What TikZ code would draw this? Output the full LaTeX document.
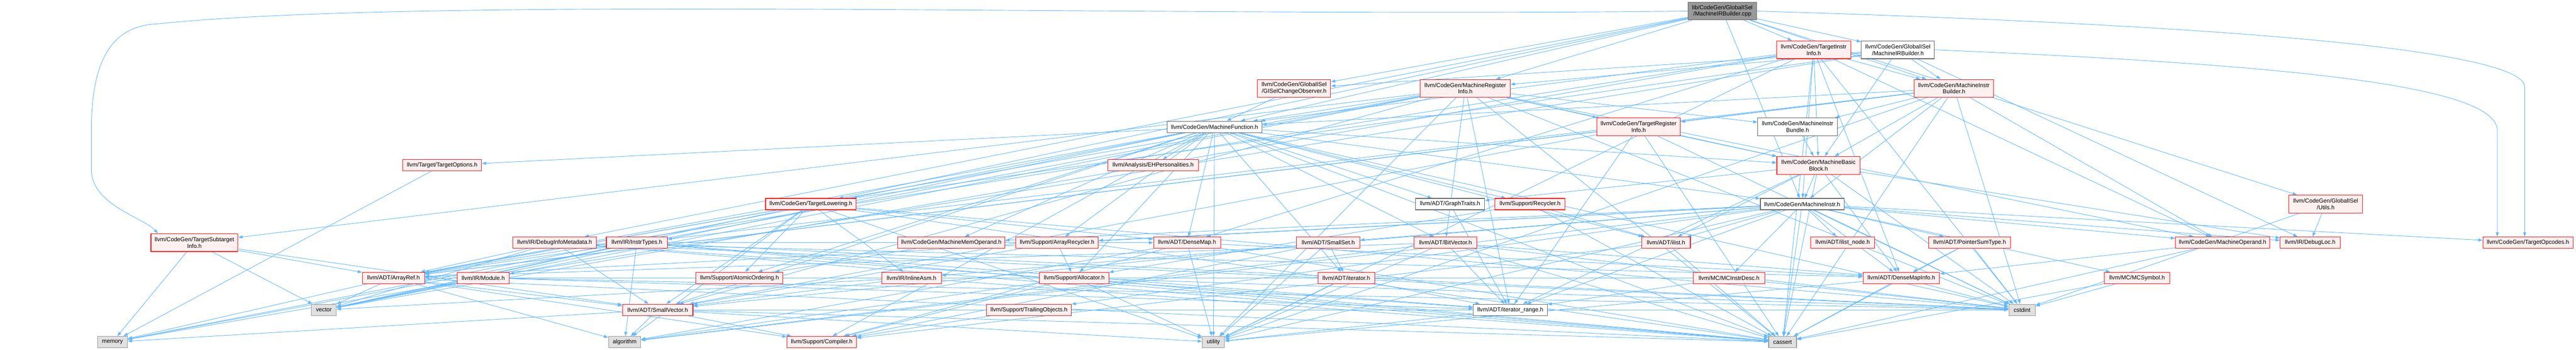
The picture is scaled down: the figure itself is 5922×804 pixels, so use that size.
\documentclass[tikz,border=0pt]{standalone}
\usepackage{fontspec}
\setmainfont{Liberation Sans}
\usetikzlibrary{arrows.meta}
\definecolor{edgec}{HTML}{63B8FF}
\definecolor{redb}{HTML}{FF1010}
\definecolor{redf}{HTML}{FFF0F0}
\definecolor{grayb}{HTML}{999999}
\definecolor{grayf}{HTML}{E0E0E0}
\definecolor{darkb}{HTML}{666666}
\pgfdeclarelayer{bg}
\pgfsetlayers{bg,main}
\tikzset{
 nbox/.style={rectangle, draw, line width=1.3pt, inner sep=0pt, minimum height=26pt, font=\fontsize{13.3}{15}\selectfont, align=center},
 tall/.style={minimum height=41pt},
 redbox/.style={nbox, draw=redb, fill=redf},
 whitebox/.style={nbox, draw=darkb, fill=white},
 sysbox/.style={nbox, draw=grayb, fill=grayf},
 rootbox/.style={nbox, draw=darkb, fill=grayb},
 dep/.style={draw=edgec, line width=1.1pt, -{Triangle[length=10pt,width=7pt]}},
}
\begin{document}
\begin{tikzpicture}[x=1pt,y=-1pt]
\useasboundingbox (0,0) rectangle (5922,804);
% row 0-4
\node[rootbox,tall,minimum width=157pt] (root) at (3959.5,25.5) {lib/CodeGen/GlobalISel\\/MachineIRBuilder.cpp};
\node[redbox,tall,minimum width=171pt] (TII) at (4169.5,114.5) {llvm/CodeGen/TargetInstr\\Info.h};
\node[whitebox,tall,minimum width=168pt] (MIRB) at (4363,114.5) {llvm/CodeGen/GlobalISel\\/MachineIRBuilder.h};
\node[redbox,tall,minimum width=168pt] (GCO) at (2975,203) {llvm/CodeGen/GlobalISel\\/GISelChangeObserver.h};
\node[redbox,tall,minimum width=207pt] (MRI) at (3368.5,203) {llvm/CodeGen/MachineRegister\\Info.h};
\node[redbox,tall,minimum width=182pt] (MIB) at (4492,203) {llvm/CodeGen/MachineInstr\\Builder.h};
\node[whitebox,minimum width=218pt] (MF) at (2792,291.5) {llvm/CodeGen/MachineFunction.h};
\node[redbox,tall,minimum width=192pt] (TRI) at (3767,291.5) {llvm/CodeGen/TargetRegister\\Info.h};
\node[whitebox,tall,minimum width=183pt] (MIBun) at (4132.5,291.5) {llvm/CodeGen/MachineInstr\\Bundle.h};
\node[redbox,minimum width=181pt] (TO) at (1016.5,380) {llvm/Target/TargetOptions.h};
\node[redbox,minimum width=208pt] (EHP) at (2651,380) {llvm/Analysis/EHPersonalities.h};
\node[redbox,tall,minimum width=191pt] (MBB) at (4180.5,380) {llvm/CodeGen/MachineBasic\\Block.h};
% row 5
\node[redbox,minimum width=208pt] (TL) at (1864,469) {llvm/CodeGen/TargetLowering.h};
\node[whitebox,minimum width=159pt] (GT) at (3333.5,469) {llvm/ADT/GraphTraits.h};
\node[redbox,minimum width=161pt] (Rec) at (3517.5,469) {llvm/Support/Recycler.h};
\node[whitebox,minimum width=192pt] (MI) at (4143,469) {llvm/CodeGen/MachineInstr.h};
\node[redbox,tall,minimum width=169pt] (Utils) at (5346.5,469) {llvm/CodeGen/GlobalISel\\/Utils.h};
% row 6
\node[redbox,tall,minimum width=200pt] (TSI) at (447,557.5) {llvm/CodeGen/TargetSubtarget\\Info.h};
\node[redbox,minimum width=192pt] (DIM) at (1275,557.5) {llvm/IR/DebugInfoMetadata.h};
\node[redbox,minimum width=140pt] (IT) at (1464,557.5) {llvm/IR/InstrTypes.h};
\node[redbox,minimum width=246pt] (MMO) at (2187,557.5) {llvm/CodeGen/MachineMemOperand.h};
\node[redbox,minimum width=190pt] (AR) at (2430,557.5) {llvm/Support/ArrayRecycler.h};
\node[redbox,minimum width=154pt] (DM) at (2729,557.5) {llvm/ADT/DenseMap.h};
\node[redbox,minimum width=145pt] (SS) at (3053.5,557.5) {llvm/ADT/SmallSet.h};
\node[redbox,minimum width=144pt] (BV) at (3323,557.5) {llvm/ADT/BitVector.h};
\node[redbox,minimum width=112pt] (ilist) at (3830,557.5) {llvm/ADT/ilist.h};
\node[redbox,minimum width=146pt] (ilnode) at (4236,557.5) {llvm/ADT/ilist\_node.h};
\node[redbox,minimum width=188pt] (PST) at (4528,557.5) {llvm/ADT/PointerSumType.h};
\node[redbox,minimum width=217pt] (MO) at (5109.5,557.5) {llvm/CodeGen/MachineOperand.h};
\node[redbox,minimum width=138pt] (DL) at (5311,557.5) {llvm/IR/DebugLoc.h};
\node[redbox,minimum width=207pt] (TOp) at (5811.5,557.5) {llvm/CodeGen/TargetOpcodes.h};
% row 7
\node[redbox,minimum width=143pt] (ArrayRef) at (904.5,638.5) {llvm/ADT/ArrayRef.h};
\node[redbox,minimum width=120pt] (Mod) at (1111,638.5) {llvm/IR/Module.h};
\node[redbox,minimum width=200pt] (AO) at (1700,638.5) {llvm/Support/AtomicOrdering.h};
\node[redbox,minimum width=137pt] (IA) at (2095.5,638.5) {llvm/IR/InlineAsm.h};
\node[redbox,minimum width=159pt] (Alloc) at (2469.5,638.5) {llvm/Support/Allocator.h};
\node[redbox,minimum width=130pt] (iter) at (3095,638.5) {llvm/ADT/iterator.h};
\node[redbox,minimum width=164pt] (MCID) at (3975,638.5) {llvm/MC/MCInstrDesc.h};
\node[redbox,minimum width=176pt] (DMI) at (4371,638.5) {llvm/ADT/DenseMapInfo.h};
\node[redbox,minimum width=150pt] (MCS) at (4913,638.5) {llvm/MC/MCSymbol.h};
% row 8
\node[sysbox,minimum width=57pt] (vector) at (744.5,712) {vector};
\node[redbox,minimum width=162pt] (SV) at (1512,712) {llvm/ADT/SmallVector.h};
\node[redbox,minimum width=195pt] (TrO) at (2365.5,712) {llvm/Support/TrailingObjects.h};
\node[whitebox,minimum width=170pt] (IR) at (3472,712) {llvm/ADT/iterator\_range.h};
\node[sysbox,minimum width=61pt] (cstdint) at (4648.5,712) {cstdint};
% row 9
\node[sysbox,minimum width=69pt] (memory) at (258.5,786) {memory};
\node[sysbox,minimum width=74pt] (algorithm) at (1436,786) {algorithm};
\node[redbox,minimum width=160pt] (Compiler) at (1889,786) {llvm/Support/Compiler.h};
\node[sysbox,minimum width=51pt] (utility) at (2789.5,786) {utility};
\node[sysbox,minimum width=64pt] (cassert) at (4098,786) {cassert};

\begin{pgfonlayer}{bg}
\draw[dep] (root.west) .. controls (2600,40) and (1000,-10) .. (360,55) .. controls (250,60) and (210,150) .. (210,300) -- (210,390) .. controls (210,470) and (330,500) .. ([xshift=-84pt]TSI.north);
\draw[dep] (root.east) .. controls (5200,60) and (5804,120) .. (5804,200) -- ([xshift=-7.5pt]TOp.north);
\draw[dep] (MIRB.east) .. controls (5300,150) and (5741,200) .. (5741,300) -- ([xshift=-70.5pt]TOp.north);
\foreach \t in {MIRB,TII,GCO,MRI,MIB,MF,MI,TL,DIM,Utils} \draw[dep] (root) -- (\t);
\foreach \t in {GCO,MBB,MIB,MRI,TL,DL,Mod} \draw[dep] (MIRB) -- (\t);
\foreach \t in {ArrayRef,DM,DMI,MBB,MF,MI,MIB,MO,cassert,cstdint,utility,vector} \draw[dep] (TII) -- (\t);
\draw[dep] (GCO) -- (MF);
\foreach \t in {ArrayRef,BV,SV,IR,MBB,MF,MIBun,MO,TRI,TSI,cassert,cstdint,memory,utility,vector} \draw[dep] (MRI) -- (\t);
\foreach \t in {ArrayRef,MBB,MF,MI,MIBun,MO,TRI,IT,cassert,cstdint,utility} \draw[dep] (MIB) -- (\t);
\foreach \t in {ArrayRef,BV,DM,GT,SV,ilist,iter,EHP,MBB,MI,MMO,Alloc,AR,AO,Compiler,Rec,TO,cassert,cstdint,memory,utility,vector} \draw[dep] (MF) -- (\t);
\foreach \t in {ArrayRef,SV,IR,MBB,cassert,cstdint} \draw[dep] (TRI) -- (\t);
\draw[dep] (MIBun) -- (MBB);
\foreach \t in {DMI,GT,ilist,IR,MI,DL,cassert,cstdint} \draw[dep] (MBB) -- (\t);
\draw[dep] (TO) -- (memory);
\foreach \t in {ArrayRef,DM,SV,IA,AO,algorithm,cassert,cstdint,utility,vector} \draw[dep] (TL) -- (\t);
\draw[dep] (GT) -- (IR);
\foreach \t in {ilist,Alloc,cassert} \draw[dep] (Rec) -- (\t);
\foreach \t in {DMI,PST,ArrayRef,ilist,ilnode,IR,MMO,MO,TOp,DL,IA,MCID,MCS,AR,TrO,SS,algorithm,cassert,cstdint,utility} \draw[dep] (MI) -- (\t);
\foreach \t in {DL,cstdint} \draw[dep] (Utils) -- (\t);
\foreach \t in {ArrayRef,SV,memory,vector} \draw[dep] (TSI) -- (\t);
\foreach \t in {ArrayRef,DMI,SV,IR,cassert,cstdint,vector} \draw[dep] (DIM) -- (\t);
\foreach \t in {ArrayRef,DM,IR,algorithm,cassert,cstdint,vector} \draw[dep] (IT) -- (\t);
\draw[dep] (MMO) -- (AO);
\foreach \t in {SV,Alloc} \draw[dep] (AR) -- (\t);
\foreach \t in {DMI,Compiler,algorithm,cassert,utility} \draw[dep] (DM) -- (\t);
\foreach \t in {SV,iter,Compiler,utility} \draw[dep] (SS) -- (\t);
\foreach \t in {ArrayRef,DMI,IR,algorithm,cassert,cstdint,utility} \draw[dep] (BV) -- (\t);
\foreach \t in {Compiler,cassert} \draw[dep] (ilist) -- (\t);
\foreach \t in {DMI,cassert,cstdint} \draw[dep] (PST) -- (\t);
\foreach \t in {DMI,cassert} \draw[dep] (MO) -- (\t);
\foreach \t in {SV,Compiler,algorithm,cassert,memory,vector} \draw[dep] (ArrayRef) -- (\t);
\foreach \t in {IR,memory,vector,cstdint} \draw[dep] (Mod) -- (\t);
\foreach \t in {SV,cassert,vector} \draw[dep] (IA) -- (\t);
\foreach \t in {Compiler,algorithm,cassert,cstdint,utility} \draw[dep] (Alloc) -- (\t);
\foreach \t in {IR,utility} \draw[dep] (iter) -- (\t);
\foreach \t in {ArrayRef,IR,cstdint} \draw[dep] (MCID) -- (\t);
\foreach \t in {cassert,cstdint,utility} \draw[dep] (DMI) -- (\t);
\foreach \t in {cassert,cstdint} \draw[dep] (MCS) -- (\t);
\foreach \t in {Compiler,algorithm,cassert,cstdint,memory,utility} \draw[dep] (SV) -- (\t);
\draw[dep] (TrO) -- (Compiler);
\draw[dep] (IR) -- (utility);
\end{pgfonlayer}
\end{tikzpicture}
\end{document}
